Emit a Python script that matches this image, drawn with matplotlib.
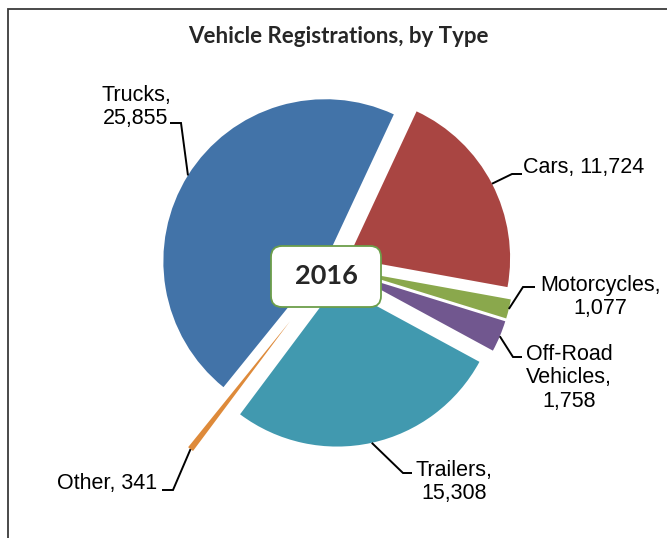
import matplotlib.pyplot as plt
import numpy as np
from matplotlib.patches import FancyBboxPatch, Rectangle

# === Data ===
categories = ["Cars", "Motorcycles", "Off-Road\nVehicles", "Trailers", "Other", "Trucks"]
registrations = [11724, 1077, 1758, 15308, 341, 25855]
label_sep = [" ", "\n", "\n", "\n", " ", "\n"]
year = "2016"

colors = ["#A94542", "#8AA84C", "#71578F", "#4199AF", "#DE8A3A", "#4273A8"]
explode_px = [17, 19, 19, 19, 70, 9]

W, H = 667, 538

# label layout (image coords, y from top): text anchor, align, leader elbow, leader end
label_xy = [(523, 168), (600, 297), (569, 378), (454, 482), (157, 484), (136, 107)]
label_ha = ["left", "center", "center", "center", "right", "center"]
elbow_xy = [(512, 174), (523, 287), (513, 357), (403, 473), (173, 490), (181, 123)]
end_x = [522, 535, 522, 412, 162, 170]

fig = plt.figure(figsize=(W / 100, H / 100), dpi=100)
ax = fig.add_axes([0, 0, 1, 1])

# --- Exploded pie, drawn in pixel units ---
wedges, _ = ax.pie(registrations, colors=colors, explode=explode_px,
                   radius=162, center=(333, H - 266), startangle=65,
                   counterclock=False, frame=True,
                   wedgeprops=dict(linewidth=0))
ax.set_xlim(0, W)
ax.set_ylim(0, H)
ax.set_aspect("equal")
ax.axis("off")

# --- Labels with elbow leader lines ---
for i, w in enumerate(wedges):
    tm = np.deg2rad((w.theta1 + w.theta2) / 2)
    sx = w.center[0] + w.r * np.cos(tm)
    sy = w.center[1] + w.r * np.sin(tm)
    ex, ey = elbow_xy[i]
    ax.plot([sx, ex, end_x[i]], [sy, H - ey, H - ey], color="black",
            lw=1.4, solid_capstyle="butt", solid_joinstyle="miter")
    txt = f"{categories[i]},{label_sep[i]}{registrations[i]:,}"
    tx, ty = label_xy[i]
    ax.text(tx, H - ty, txt, ha=label_ha[i], va="center", fontsize=15.5,
            family="Liberation Sans", multialignment="center", linespacing=1.15)

# --- Year box in the middle ---
box = FancyBboxPatch((271, H - 307), 110, 61,
                     boxstyle="round,pad=0,rounding_size=11",
                     fc="white", ec="#6C9E4A", lw=1.3, zorder=5)
ax.add_patch(box)
ax.text(326, H - 276, year, ha="center", va="center", fontsize=19.5,
        fontweight="bold", family="Lato", color="#262626", zorder=6)

# --- Title and chart frame ---
fig.text(338 / W, 1 - 37 / H, "Vehicle Registrations, by Type", ha="center",
         va="center", fontsize=16, fontweight="bold", family="Lato",
         color="#262626")
fig.patches.append(Rectangle((8 / W, -0.1), 1.2, 1.1 - 9 / H, fill=False,
                             ec="#3a3a3a", lw=1.3, transform=fig.transFigure))

fig.savefig("out.png", dpi=100)
